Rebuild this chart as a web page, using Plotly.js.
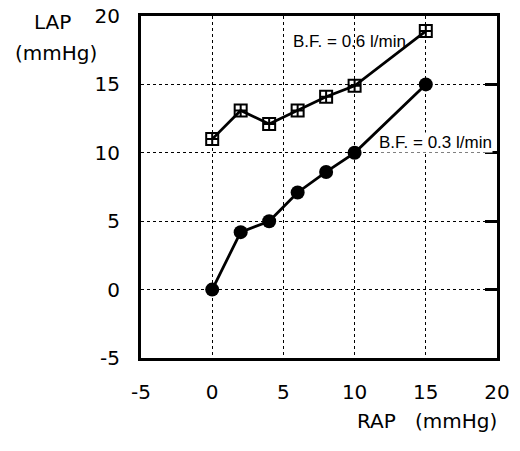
<!DOCTYPE html>
<html>
<head>
<meta charset="utf-8">
<script src="https://cdn.plot.ly/plotly-3.0.1.min.js"></script>
<style>html,body{margin:0;padding:0;background:#fff;}#chart{width:520px;height:451px;}</style>
</head>
<body>
<div id="chart"></div>
<script>
// RAP (mmHg) values
const rap = [0, 2, 4, 6, 8, 10, 15];
// LAP (mmHg) at blood flow 0.6 l/min
const lapHigh = [11, 13.1, 12.1, 13.1, 14.1, 14.9, 18.9];
// LAP (mmHg) at blood flow 0.3 l/min
const lapLow = [0, 4.2, 5, 7.1, 8.6, 10, 15];
const tickVals = [-5, 0, 5, 10, 15, 20];
const tickText = ['-5', '0', '5', '10', '15', '20'];

const wide = {family: 'DejaVu Sans, Arial, sans-serif', color: '#000'};
const narrow = {family: 'Liberation Sans, Arial, sans-serif', color: '#000'};

const traces = [
  {x: rap, y: lapHigh, type: 'scatter', mode: 'lines+markers',
   line: {color: '#000', width: 2.8},
   marker: {symbol: 'square-cross-open', size: 12, color: '#000', line: {width: 2, color: '#000'}}},
  {x: rap, y: lapLow, type: 'scatter', mode: 'lines+markers',
   line: {color: '#000', width: 2.8},
   marker: {symbol: 'circle', size: 14, color: '#000'}},
  {x: [], y: [], yaxis: 'y2', type: 'scatter', showlegend: false}
];

const layout = {
  width: 520, height: 451,
  margin: {l: 141, r: 23, t: 16, b: 93},
  paper_bgcolor: '#fff', plot_bgcolor: '#fff',
  showlegend: false,
  font: Object.assign({size: 20}, wide),
  xaxis: {
    range: [-5, 20], tickvals: tickVals, ticktext: tickText,
    showgrid: true, gridcolor: '#000', griddash: 'dot', gridwidth: 1.2,
    zeroline: false, showline: true, linecolor: '#000', linewidth: 3, mirror: true,
    ticks: 'outside', ticklen: 14, tickcolor: 'rgba(0,0,0,0)',
    tickfont: Object.assign({size: 20}, wide)
  },
  yaxis: {
    range: [-5, 20], tickvals: tickVals, ticktext: tickText,
    showgrid: true, gridcolor: '#000', griddash: 'dot', gridwidth: 1.2,
    zeroline: false, showline: true, linecolor: '#000', linewidth: 3, mirror: true,
    ticks: 'outside', ticklen: 14, tickcolor: 'rgba(0,0,0,0)',
    tickfont: Object.assign({size: 20}, wide)
  },
  yaxis2: {
    range: [-5, 20], tickvals: tickVals, overlaying: 'y', side: 'right',
    showgrid: false, zeroline: false, showticklabels: false,
    ticks: 'inside', ticklen: 12, tickwidth: 3, tickcolor: '#000'
  },
  annotations: [
    {text: 'B.F. = 0.6 l/min', x: 9.65, y: 18.15, xref: 'x', yref: 'y', showarrow: false,
     font: Object.assign({size: 17}, narrow)},
    {text: 'B.F. = 0.3 l/min', x: 15.7, y: 10.75, xref: 'x', yref: 'y', showarrow: false,
     font: Object.assign({size: 17}, narrow), bgcolor: '#fff', borderpad: 0},
    {text: 'LAP', x: 52, y: 22, showarrow: false,
     font: Object.assign({size: 20}, wide)},
    {text: 'RAP&nbsp;&nbsp;&nbsp;(mmHg)', x: 499, y: 421, showarrow: false, xanchor: 'right',
     font: Object.assign({size: 20}, wide)},
    {text: '(mmHg)', x: 56, y: 53, showarrow: false,
     font: Object.assign({size: 20}, wide)}
  ]
};

// convert pixel-placed outer labels into paper coordinates
const pw = 520 - 141 - 23, ph = 451 - 16 - 93;
layout.annotations.forEach(a => {
  if (a.xref === 'x') return;
  a.xref = 'paper'; a.yref = 'paper';
  a.x = (a.x - 141) / pw;
  a.y = 1 - (a.y - 16) / ph;
  if (!a.xanchor) a.xanchor = 'center';
  a.yanchor = 'middle';
});

Plotly.newPlot('chart', traces, layout, {staticPlot: true, displayModeBar: false});
</script>
</body>
</html>
